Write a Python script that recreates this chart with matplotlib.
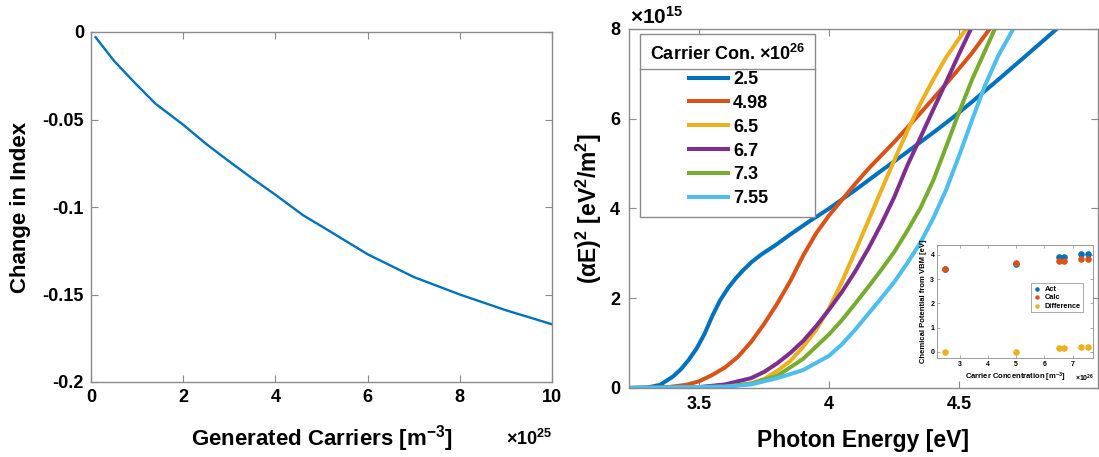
import matplotlib
matplotlib.use('Agg')
import matplotlib.pyplot as plt
from matplotlib.lines import Line2D

plt.rcParams['font.family'] = ['Liberation Sans', 'DejaVu Sans']
plt.rcParams['font.weight'] = 'bold'
plt.rcParams['axes.unicode_minus'] = False
plt.rcParams['mathtext.default'] = 'regular'

# --- left panel: change in index vs generated carriers (x in 1e25 m^-3)
carriers = [0.1, 0.5, 0.97, 1.4, 2.0, 2.5, 3.0, 3.5, 4.0, 4.6, 5.0, 5.5, 6.0, 6.5,
            7.0, 7.5, 8.0, 8.5, 9.0, 9.5, 10.0]
index_change = [-0.003, -0.0165, -0.0296, -0.041, -0.053, -0.064, -0.074, -0.0837,
                -0.093, -0.1047, -0.111, -0.119, -0.127, -0.1335, -0.140, -0.145,
                -0.150, -0.1545, -0.159, -0.163, -0.167]

# --- right panel: (alpha E)^2 vs photon energy (y in 1e15)
conc_labels = ['2.5', '4.98', '6.5', '6.7', '7.3', '7.55']
colors = ['#0072BD', '#D95319', '#EDB120', '#7E2F8E', '#77AC30', '#4DBEEE']

E_25 = [3.219, 3.30, 3.35, 3.40, 3.43, 3.46, 3.49, 3.52, 3.55, 3.58, 3.61, 3.64, 3.67,
        3.70, 3.74, 3.79, 3.85, 3.92, 4.0, 4.1, 4.2, 4.3, 4.4, 4.47, 4.55, 4.65,
        4.75, 4.875]
A_25 = [0.0, 0.01, 0.07, 0.26, 0.42, 0.63, 0.88, 1.2, 1.6, 1.95, 2.22, 2.44, 2.63,
        2.8, 2.98, 3.17, 3.42, 3.7, 4.0, 4.41, 4.84, 5.26, 5.69, 6.0, 6.38, 6.87,
        7.37, 8.0]

E_498 = [3.219, 3.30, 3.38, 3.45, 3.50, 3.55, 3.60, 3.65, 3.70, 3.75, 3.80, 3.85, 3.90,
         3.95, 4.0, 4.05, 4.10, 4.15, 4.20, 4.25, 4.30, 4.35, 4.40, 4.45, 4.50, 4.55,
         4.617]
A_498 = [0.0, 0.0, 0.02, 0.07, 0.15, 0.29, 0.46, 0.7, 1.03, 1.43, 1.88, 2.38, 2.95,
         3.45, 3.85, 4.2, 4.55, 4.88, 5.18, 5.48, 5.8, 6.12, 6.45, 6.78, 7.12, 7.47,
         8.0]

E_65 = [3.219, 3.50, 3.60, 3.70, 3.75, 3.80, 3.85, 3.90, 3.95, 4.0, 4.05, 4.10, 4.15,
        4.20, 4.25, 4.30, 4.35, 4.40, 4.45, 4.50, 4.527]
A_65 = [0.0, 0.0, 0.03, 0.1, 0.2, 0.38, 0.6, 0.92, 1.3, 1.78, 2.38, 3.04, 3.72,
        4.4, 5.07, 5.72, 6.33, 6.87, 7.37, 7.79, 8.0]

E_67 = [3.219, 3.50, 3.60, 3.70, 3.75, 3.80, 3.85, 3.90, 3.95, 4.0, 4.05, 4.10, 4.15,
        4.20, 4.25, 4.30, 4.35, 4.40, 4.45, 4.50, 4.545]
A_67 = [0.0, 0.02, 0.08, 0.22, 0.36, 0.55, 0.78, 1.05, 1.38, 1.75, 2.15, 2.6, 3.1,
        3.65, 4.25, 4.95, 5.57, 6.2, 6.82, 7.45, 8.0]

E_73 = [3.219, 3.60, 3.70, 3.80, 3.90, 4.0, 4.05, 4.10, 4.15, 4.20, 4.25, 4.30, 4.35,
        4.40, 4.45, 4.50, 4.55, 4.60, 4.637]
A_73 = [0.0, 0.03, 0.1, 0.27, 0.65, 1.2, 1.52, 1.88, 2.25, 2.63, 3.03, 3.5, 4.0,
        4.62, 5.38, 6.15, 6.88, 7.52, 8.0]

E_755 = [3.219, 3.60, 3.70, 3.80, 3.90, 4.0, 4.05, 4.10, 4.15, 4.20, 4.25, 4.30, 4.35,
         4.40, 4.45, 4.50, 4.55, 4.60, 4.65, 4.708]
A_755 = [0.0, 0.03, 0.08, 0.22, 0.4, 0.72, 0.98, 1.3, 1.65, 2.0, 2.36, 2.78, 3.23,
         3.78, 4.42, 5.18, 5.98, 6.75, 7.4, 8.0]

energies = [E_25, E_498, E_65, E_67, E_73, E_755]
absorb = [A_25, A_498, A_65, A_67, A_73, A_755]

# --- inset: chemical potential from VBM (x in 1e26 m^-3)
inset_conc = [2.5, 4.98, 6.5, 6.7, 7.3, 7.55]
act = [3.40, 3.62, 3.93, 3.93, 4.02, 4.03]
calc = [3.40, 3.65, 3.76, 3.76, 3.82, 3.83]
diff = [0.0, -0.02, 0.14, 0.15, 0.20, 0.20]

spine_col = '#8a8a8a'


def matlab_axes(ax, lw=1.0):
    for s in ax.spines.values():
        s.set_color(spine_col)
        s.set_linewidth(lw)
    ax.tick_params(direction='in', top=True, right=True, color=spine_col)


fig = plt.figure(figsize=(10.99, 4.57), dpi=100)

# left panel
ax1 = fig.add_axes([91 / 1099, 75 / 457, 461 / 1099, 350 / 457])
ax1.plot(carriers, index_change, color='#0072BD', linewidth=1.7)
ax1.set_xlim(0, 10)
ax1.set_ylim(-0.2, 0)
ax1.set_xticks([0, 2, 4, 6, 8, 10])
ax1.set_yticks([-0.2, -0.15, -0.1, -0.05, 0])
ax1.set_yticklabels(['-0.2', '-0.15', '-0.1', '-0.05', '0'])
matlab_axes(ax1)
ax1.tick_params(labelsize=13, length=5, pad=5)
ax1.set_xlabel('Generated Carriers [m$^{-3}$]', fontsize=16, fontweight='bold', labelpad=12)
ax1.set_ylabel('Change in Index', fontsize=16, fontweight='bold', labelpad=8)
fig.text(552 / 1099, 1 - 439 / 457, '×10$^{25}$', fontsize=13, ha='right', va='center')

# right panel
ax2 = fig.add_axes([628.5 / 1099, 69 / 457, 469.5 / 1099, 359 / 457])
for E, A, c, lab in zip(energies, absorb, colors, conc_labels):
    ax2.plot(E, A, color=c, linewidth=2.9, label=lab, solid_capstyle='butt',
             solid_joinstyle='round')
ax2.set_xlim(3.228, 5.034)
ax2.set_ylim(0, 8)
ax2.set_xticks([3.5, 4, 4.5])
ax2.set_xticklabels(['3.5', '4', '4.5'])
ax2.set_yticks([0, 2, 4, 6, 8])
matlab_axes(ax2)
ax2.tick_params(labelsize=13, length=5, pad=6)
ax2.set_xlabel('Photon Energy [eV]', fontsize=16.5, fontweight='bold', labelpad=11)
ax2.set_ylabel('($\\alpha$E)$^2$ [eV$^2$/m$^2$]', fontsize=16.5, fontweight='bold', labelpad=4)
fig.text(630 / 1099, 1 - 17 / 457, '×10$^{15}$', fontsize=15, ha='left', va='center')

leg = ax2.legend(title='Carrier Con. ×10$^{26}$', loc='upper left',
                 bbox_to_anchor=(0.0245, 0.986), borderaxespad=0, fontsize=13,
                 title_fontproperties={'size': 13, 'weight': 'bold'},
                 fancybox=False, framealpha=1, edgecolor=spine_col,
                 handlelength=2.4, handletextpad=0.15, labelspacing=0.38,
                 borderpad=0.55)
leg.get_frame().set_linewidth(1.0)

# inset
ax3 = fig.add_axes([937 / 1099, 99 / 457, 156 / 1099, 113 / 457])
ax3.scatter(inset_conc, act, s=14, color='#0072BD', label='Act', zorder=3)
ax3.scatter(inset_conc, calc, s=14, color='#D95319', label='Calc', zorder=4)
ax3.scatter(inset_conc, diff, s=14, color='#EDB120', label='Difference', zorder=5)
ax3.set_xlim(2.2, 7.72)
ax3.set_ylim(-0.26, 4.41)
ax3.set_xticks([3, 4, 5, 6, 7])
ax3.set_yticks([0, 1, 2, 3, 4])
matlab_axes(ax3, lw=0.6)
ax3.tick_params(labelsize=5, length=2, pad=2, width=0.5)
ax3.set_xlabel('Carrier Concentration [m$^{-3}$]', fontsize=5.5, fontweight='bold', labelpad=2)
ax3.set_ylabel('Chemical Potential from VBM [eV]', fontsize=5.5, fontweight='bold', labelpad=2)
ileg = ax3.legend(loc='upper left', bbox_to_anchor=(0.6, 0.66), borderaxespad=0,
                  fontsize=5.3, fancybox=False, framealpha=1, edgecolor=spine_col,
                  handlelength=1.2, handletextpad=0.4, labelspacing=0.2,
                  borderpad=0.3, markerscale=0.6)
ileg.get_frame().set_linewidth(0.5)
fig.text(1094 / 1099, 1 - 378 / 457, '×10$^{26}$', fontsize=5, ha='right', va='center')

# separator under legend title (MATLAB style)
fig.canvas.draw()
r = fig.canvas.get_renderer()
fb = leg.get_window_extent(r)
tb = leg.get_title().get_window_extent(r)
ysep = tb.y0 - 5
fig.add_artist(Line2D([fb.x0 / fig.bbox.width, fb.x1 / fig.bbox.width],
                      [ysep / fig.bbox.height, ysep / fig.bbox.height],
                      color=spine_col, linewidth=1.0))

fig.savefig('out.png', dpi=100)
